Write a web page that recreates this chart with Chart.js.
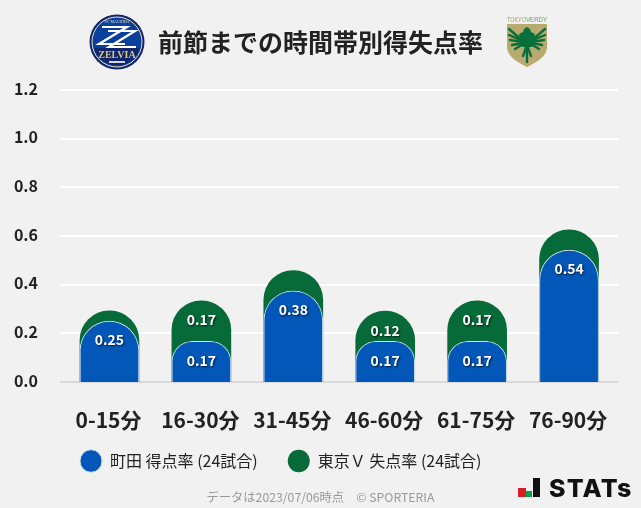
<!DOCTYPE html>
<html>
<head>
<meta charset="utf-8">
<script src="https://cdn.jsdelivr.net/npm/chart.js@4/dist/chart.umd.min.js"></script>
<style>
    html, body { margin: 0; padding: 0; background: #f1f1f1; }
    #wrap { position: relative; width: 641px; height: 508px; overflow: hidden; font-family: "Noto Sans CJK JP", sans-serif; }
    canvas { position: absolute; left: 0; top: 0; }
    .logo { position: absolute; }
    #title { position: absolute; left: 0; width: 641px; top: 23px; text-align: center; font-size: 25px; line-height: 36px; font-weight: 700; color: #222; }
    #footer { position: absolute; left: 0; width: 641px; top: 488px; text-align: center; font-size: 12.25px; line-height: 18px; color: #999; }
    #statsText { position: absolute; left: 549px; top: 470px; font: 800 25px/36px "Inter", sans-serif; color: #111; letter-spacing: 1.2px; }
</style>
</head>
<body>
<div id="wrap">
    <canvas id="chart" width="641" height="508"></canvas>
    <div id="title"></div>
    <div id="footer"></div>

    <!-- Zelvia crest -->
    <svg class="logo" style="left:89px;top:14px" width="56" height="56" viewBox="0 0 56 56">
        <circle cx="28" cy="28" r="27.5" fill="#10256b"/>
        <circle cx="28" cy="28" r="25" fill="#0a3f9c" stroke="#e6dfc0" stroke-width="1"/>
        <path d="M5 34h46a24 24 0 0 1-46 0z" fill="#10256b"/>
        <g fill="none" stroke="#fff" stroke-width="2.2">
            <polyline points="13,13 38,13 10,30 36,30"/>
            <polyline points="19,17 46,17 20,33 47,33"/>
        </g>
        <text x="28" y="9" text-anchor="middle" font-family="Liberation Serif" font-size="4" fill="#e6dfc0">FC MACHIDA</text>
        <text x="28" y="44" text-anchor="middle" font-family="Liberation Serif" font-weight="700" font-size="10" fill="#d9c67e">ZELVIA</text>
        <rect x="20" y="47" width="16" height="2" fill="#cfd6e6"/>
    </svg>

    <!-- Verdy crest -->
    <svg class="logo" style="left:506px;top:15px" width="42" height="53" viewBox="0 0 42 53">
        <text x="1" y="7" font-family="Liberation Sans" font-size="7" fill="#a89a60" textLength="19" lengthAdjust="spacingAndGlyphs">TOKYO</text>
        <text x="20" y="7" font-family="Liberation Sans" font-size="7" fill="#5f9e5a" textLength="21" lengthAdjust="spacingAndGlyphs">VERDY</text>
        <path d="M1 9h40v23c0 10-12 16-20 20C13 48 1 42 1 32z" fill="#b9ab70"/>
        <g stroke="#07703a" stroke-width="2.4" stroke-linecap="round">
            <line x1="17" y1="26" x2="3" y2="14"/>
            <line x1="17" y1="26" x2="3" y2="20"/>
            <line x1="17" y1="27" x2="4" y2="25"/>
            <line x1="17" y1="28" x2="6" y2="30"/>
            <line x1="17" y1="29" x2="9" y2="34"/>
            <line x1="25" y1="26" x2="39" y2="14"/>
            <line x1="25" y1="26" x2="39" y2="20"/>
            <line x1="25" y1="27" x2="38" y2="25"/>
            <line x1="25" y1="28" x2="36" y2="30"/>
            <line x1="25" y1="29" x2="33" y2="34"/>
            <line x1="21" y1="30" x2="17" y2="41"/>
            <line x1="21" y1="30" x2="21" y2="47"/>
            <line x1="21" y1="30" x2="25" y2="41"/>
        </g>
        <path d="M13 19l4-2 1-3 3-2 3 2 1 3 4 2-3 13h-10z" fill="#07703a"/>
    </svg>

    <!-- STATS mark -->
    <svg class="logo" style="left:517px;top:477px" width="24" height="21" viewBox="0 0 24 21">
        <rect x="1" y="11" width="8" height="9" fill="#d81f26"/>
        <rect x="9" y="14" width="6" height="6" fill="#0aa14a"/>
        <rect x="16" y="1" width="7" height="19" fill="#111"/>
    </svg>
    <div id="statsText">STATs</div>
</div>

<script>
    const categories = ['0-15分', '16-30分', '31-45分', '46-60分', '61-75分', '76-90分'];
    // rates per match over 24 matches, labels show them to two places
    const machidaScored = [0.25, 0.167, 0.375, 0.167, 0.167, 0.542];
    const verdyConceded = [0.042, 0.167, 0.083, 0.124, 0.167, 0.083];
    const yTicks = [0, 0.2, 0.4, 0.6, 0.8, 1.0, 1.2];
    const titleText = '前節までの時間帯別得失点率';
    const footerText = 'データは2023/07/06時点　© SPORTERIA';

    const jpFont = '"Noto Sans CJK JP", sans-serif';
    const blue = '#0357b8';
    const green = '#066b38';

    document.getElementById('title').textContent = titleText;
    document.getElementById('footer').textContent = footerText;

    // green sits behind blue, so it is drawn from zero up to the stacked total
    const stackedTotal = machidaScored.map((v, i) => v + verdyConceded[i]);

    // full width grid lines and the grey base line
    const gridPlugin = {
        id: 'wideGrid',
        beforeDatasetsDraw(chart) {
            const { ctx, scales: { y } } = chart;
            ctx.save();
            ctx.lineWidth = 2;
            yTicks.forEach(t => {
                const py = Math.round(y.getPixelForValue(t));
                ctx.strokeStyle = t === 0 ? '#d9d9d9' : '#ffffff';
                ctx.beginPath();
                ctx.moveTo(60, py);
                ctx.lineTo(618, py);
                ctx.stroke();
            });
            ctx.restore();
        }
    };

    // value labels, small segments get none
    const labelPlugin = {
        id: 'barLabels',
        afterDatasetsDraw(chart) {
            const { ctx } = chart;
            ctx.save();
            ctx.font = '700 14px ' + jpFont;
            ctx.fillStyle = '#fff';
            ctx.textAlign = 'center';
            ctx.textBaseline = 'middle';
            ctx.shadowColor = 'rgba(0,0,0,0.7)';
            ctx.shadowBlur = 2;
            ctx.shadowOffsetX = 1;
            ctx.shadowOffsetY = 1;
            [machidaScored, verdyConceded].forEach((values, d) => {
                chart.getDatasetMeta(d).data.forEach((bar, i) => {
                    if (values[i] < 0.1) return;
                    ctx.fillText(values[i].toFixed(2), bar.x, bar.y + 19);
                });
            });
            ctx.restore();
        }
    };

    // legend sits off centre and closer to the axis than the layout would put it
    const legendShift = {
        id: 'legendShift',
        afterLayout(chart) {
            const lg = chart.legend;
            lg.left += 50;
            lg.right += 50;
            lg.top -= 9;
            lg.bottom -= 9;
        }
    };

    new Chart(document.getElementById('chart').getContext('2d'), {
        type: 'bar',
        data: {
            labels: categories,
            datasets: [
                {
                    label: '町田 得点率 (24試合)',
                    data: machidaScored,
                    backgroundColor: blue,
                    borderColor: '#cfe0ea',
                    borderWidth: 1,
                    borderSkipped: 'bottom',
                    borderRadius: { topLeft: 30, topRight: 30 },
                    barThickness: 59,
                    order: 1
                },
                {
                    label: '東京Ｖ 失点率 (24試合)',
                    data: stackedTotal,
                    backgroundColor: green,
                    borderWidth: 0,
                    borderRadius: { topLeft: 30, topRight: 30 },
                    barThickness: 59,
                    order: 2
                }
            ]
        },
        options: {
            responsive: false,
            animation: false,
            layout: { padding: { left: 0, right: 26, top: 90, bottom: 20 } },
            plugins: {
                legend: {
                    position: 'bottom',
                    align: 'start',
                    labels: {
                        usePointStyle: true,
                        pointStyle: 'circle',
                        pointStyleWidth: 22,
                        color: '#222',
                        font: { family: jpFont, size: 16 },
                        padding: 30
                    }
                },
                tooltip: { enabled: false }
            },
            scales: {
                x: {
                    stacked: true,
                    afterFit(scale) { scale.height = 50; },
                    grid: { display: false },
                    border: { display: false },
                    ticks: { color: '#222', padding: 17, labelOffset: -1, font: { family: jpFont, size: 21, weight: '700' } }
                },
                y: {
                    min: 0,
                    max: 1.2,
                    afterBuildTicks(scale) { scale.ticks = yTicks.map(v => ({ value: v })); },
                    afterFit(scale) { scale.width = 63.5; },
                    grid: { display: false },
                    border: { display: false },
                    ticks: {
                        color: '#222',
                        padding: 17.5,
                        labelOffset: -1.5,
                        font: { family: jpFont, size: 16, weight: '700' },
                        callback: v => v.toFixed(1)
                    }
                }
            }
        },
        plugins: [gridPlugin, labelPlugin, legendShift]
    });
</script>
</body>
</html>
